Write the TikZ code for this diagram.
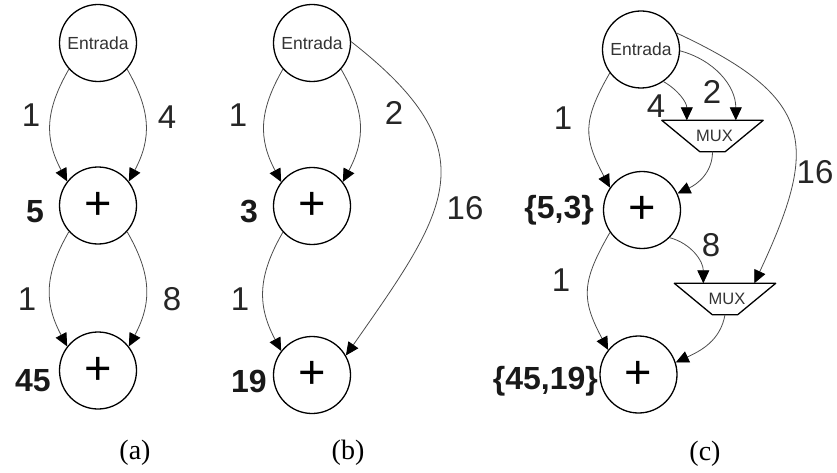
\documentclass[tikz,border=0pt]{standalone}
\usepackage{fontspec}
\setmainfont{Liberation Serif}
\setsansfont{Liberation Sans}
\usetikzlibrary{arrows.meta}
\begin{document}
\begin{tikzpicture}[x=1pt,y=1pt,
  opnode/.style={circle,draw=black,line width=1.3pt,minimum size=77pt,inner sep=0pt,font=\sffamily\fontsize{47}{47}\selectfont},
  innode/.style={circle,draw=black,line width=1.3pt,minimum size=77pt,inner sep=0pt,font=\sffamily\fontsize{17.5}{17.5}\selectfont,text=black!80},
  lbl/.style={font=\sffamily\fontsize{33}{33}\selectfont,inner sep=0pt,text=black!85},
  blbl/.style={font=\sffamily\bfseries\fontsize{32}{32}\selectfont,inner sep=0pt,text=black!90},
  captext/.style={font=\fontsize{28}{28}\selectfont,inner sep=0pt},
  conn/.style={draw=black!70,line width=0.8pt,-{Triangle[length=13pt,width=12pt,color=black]}},
  muxbox/.style={minimum width=101pt,minimum height=31pt,inner sep=0pt,font=\sffamily\fontsize{16.5}{16.5}\selectfont,text=black!80},
  muxline/.style={draw=black,line width=1.3pt,line join=round}
]
\useasboundingbox (0,0) rectangle (837,-473);

% ---------- (a) ----------
\node[innode] (Ea) at (98,-43) {Entrada};
\node[opnode] (Pa1) at (98,-205.5) {+};
\node[opnode] (Pa2) at (98,-370.5) {+};
\draw[conn] (Ea.222) to[out=240,in=118,looseness=1.1] (Pa1.142);
\draw[conn] (Ea.318) to[out=-60,in=62,looseness=1.1] (Pa1.38);
\draw[conn] (Pa1.222) to[out=240,in=118,looseness=1.1] (Pa2.142);
\draw[conn] (Pa1.318) to[out=-60,in=62,looseness=1.1] (Pa2.38);
\node[lbl] (la1) at (31,-115) {1};
\node[lbl] (la4) at (167,-117) {4};
\node[blbl] (la5) at (35,-212) {5};
\node[lbl] (la1b) at (27,-299) {1};
\node[lbl] (la8) at (172,-299) {8};
\node[blbl] (la45) at (33,-381) {45};
\node[captext] (capa) at (135,-453) {(a)};

% ---------- (b) ----------
\node[innode] (Eb) at (312,-43) {Entrada};
\node[opnode] (Pb1) at (312,-206) {+};
\node[opnode] (Pb2) at (312,-375) {+};
\draw[conn] (Eb.222) to[out=240,in=118,looseness=1.1] (Pb1.142);
\draw[conn] (Eb.318) to[out=-60,in=62,looseness=1.1] (Pb1.38);
\draw[conn] (Pb1.222) to[out=240,in=118,looseness=1.1] (Pb2.142);
\draw[conn] (Eb.2) to[out=-38,in=55,looseness=1.45] (Pb2.30);
\node[lbl] (lb1) at (238,-115) {1};
\node[lbl] (lb2) at (394,-113) {2};
\node[blbl] (lb3) at (249,-212) {3};
\node[lbl] (lb16) at (465,-208) {16};
\node[lbl] (lb1b) at (240,-299) {1};
\node[blbl] (lb19) at (249,-381) {19};
\node[captext] (capb) at (348,-453) {(b)};

% ---------- (c) ----------
\node[innode] (Ec) at (641,-49.5) {Entrada};
\node[opnode] (Pc1) at (642,-210) {+};
\node[opnode] (Pc2) at (638.5,-374.5) {+};
\node[muxbox] (M1) at (712.5,-136) {\hspace*{4pt}MUX};
\node[muxbox] (M2) at (725,-299) {\hspace*{4pt}MUX};
\draw[muxline] (M1.north west) -- (M1.north east) -- ([xshift=-38pt]M1.south east) -- ([xshift=38pt]M1.south west) -- cycle;
\draw[muxline] (M2.north west) -- (M2.north east) -- ([xshift=-38pt]M2.south east) -- ([xshift=38pt]M2.south west) -- cycle;

\draw[conn] (Ec.217) to[out=240,in=118,looseness=1.25] (Pc1.145);
\draw[conn] (Ec.-55) to[out=-30,in=90] ([xshift=25pt]M1.north west);
\draw[conn] (Ec.-2) to[out=-15,in=90] ([xshift=74pt]M1.north west);
\draw[conn] (Ec.25) to[out=-25,in=65,looseness=1.5] ([xshift=80pt]M2.north west);
\draw[conn] (M1.south) to[out=-90,in=25] (Pc1.25);
\draw[conn] (Pc1.-45) to[out=-15,in=90] ([xshift=29pt]M2.north west);
\draw[conn] (Pc1.215) to[out=240,in=118,looseness=1.25] (Pc2.141);
\draw[conn] (M2.south) to[out=-100,in=25] (Pc2.18);

\node[lbl] (lc1) at (563,-118) {1};
\node[lbl] (lc4) at (656,-106) {4};
\node[lbl] (lc2) at (712,-92) {2};
\node[lbl] (lc16) at (815,-172) {16};
\node[blbl,anchor=east] (lc53) at (594,-210) {\{5,3\}};
\node[lbl] (lc8) at (711,-245) {8};
\node[lbl] (lc1b) at (561,-280) {1};
\node[blbl,anchor=east] (lc4519) at (598,-381) {\{45,19\}};
\node[captext] (capc) at (705,-454) {(c)};
\end{tikzpicture}
\end{document}
